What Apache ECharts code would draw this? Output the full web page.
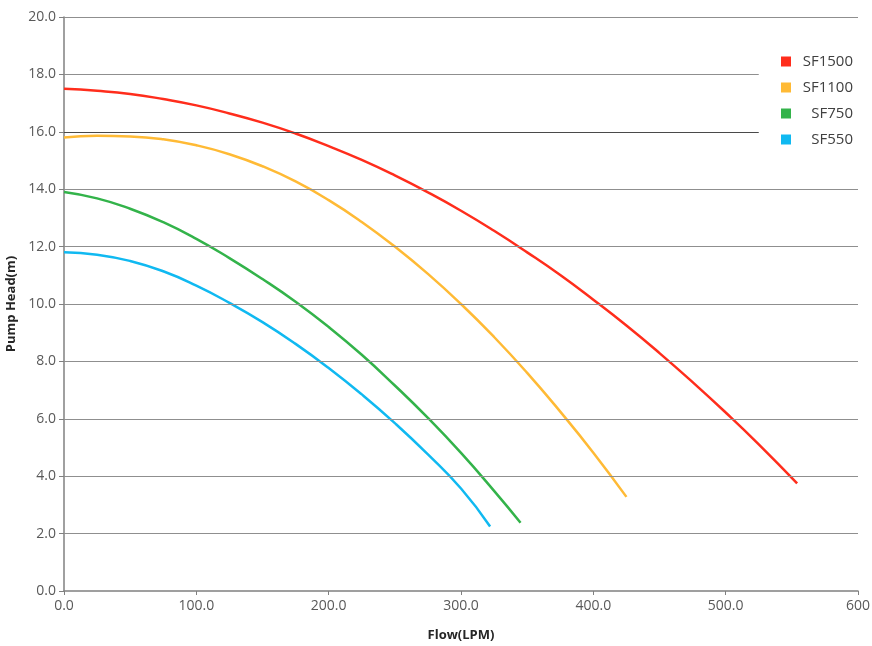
<!DOCTYPE html>
<html>
<head>
<meta charset="utf-8">
<script src="https://cdn.jsdelivr.net/npm/echarts@6/dist/echarts.min.js"></script>
<style>html,body{margin:0;padding:0;background:#fff;}#c{width:872px;height:646px;}</style>
</head>
<body>
<div id="c"></div>
<script>
var seriesNames = ['SF1500', 'SF1100', 'SF750', 'SF550'];
var sf1500 = [[0,17.5],[25,17.43],[50,17.32],[75,17.14],[100,16.92],[125,16.64],[150,16.32],[175,15.94],[200,15.5],[225,15.02],[250,14.48],[275,13.89],[300,13.25],[325,12.55],[350,11.8],[375,11.01],[400,10.15],[425,9.25],[450,8.29],[475,7.28],[500,6.22],[525,5.11],[554,3.75]];
var sf1100 = [[0,15.8],[25,15.86],[50,15.84],[75,15.74],[100,15.53],[125,15.22],[150,14.8],[175,14.27],[200,13.62],[225,12.86],[250,12.0],[275,11.05],[300,10.0],[325,8.85],[350,7.6],[375,6.25],[400,4.82],[425,3.28]];
var sf750 = [[0,13.9],[25,13.68],[50,13.32],[75,12.85],[100,12.27],[125,11.6],[150,10.87],[175,10.08],[200,9.2],[225,8.23],[250,7.16],[275,6.03],[300,4.81],[325,3.49],[345,2.38]];
var sf550 = [[0,11.8],[25,11.72],[50,11.5],[75,11.14],[100,10.64],[125,10.04],[150,9.37],[175,8.61],[200,7.77],[225,6.85],[250,5.85],[275,4.76],[300,3.57],[322,2.25]];
var yTicks = [2, 4, 6, 8, 10, 12, 14, 16, 18, 20];
var shortGridTicks = [16, 18];
var shortGridEnd = 525;
var xMax = 600;

var colors = ['#FF2D1C', '#FFBA35', '#33B34A', '#10B9F1'];
var font = '"Open Sans", "DejaVu Sans", sans-serif';

var gridData = yTicks.map(function (v) {
  var end = shortGridTicks.indexOf(v) >= 0 ? shortGridEnd : xMax;
  return [{coord: [0, v], lineStyle: {type: 'solid', color: v === 16 ? '#4a4a4a' : '#8f8f8f', width: 1.2}},
          {coord: [end, v]}];
});

var chart = echarts.init(document.getElementById('c'), null, {renderer: 'canvas'});
var dataSets = [sf1500, sf1100, sf750, sf550];
var series = dataSets.map(function (d, i) {
  return {
    name: seriesNames[i], type: 'line', data: d, smooth: 0.5,
    showSymbol: false, symbol: 'none', z: 3,
    lineStyle: {width: 2.5, color: colors[i]}, itemStyle: {color: colors[i]}
  };
});
series.push({
  type: 'line', data: [], silent: true, z: 1,
  markLine: {silent: true, symbol: ['none', 'none'], label: {show: false},
    lineStyle: {type: 'solid'}, animation: false, data: gridData}
});

chart.setOption({
  animation: false,
  color: colors,
  grid: {left: 64, right: 14, top: 17, bottom: 55, containLabel: false, outerBoundsMode: 'none'},
  legend: {
    orient: 'vertical', right: 14, top: 49,
    itemWidth: 10, itemHeight: 10, itemGap: 11,
    icon: 'rect', data: seriesNames,
    formatter: function (n) { return '{a|' + n + '}'; },
    textStyle: {rich: {a: {width: 57, align: 'right', fontSize: 15, lineHeight: 19, fontFamily: font, color: '#404040'}}}
  },
  xAxis: {
    type: 'value', min: 0, max: xMax, interval: 100,
    name: 'Flow(LPM)', nameLocation: 'middle', nameGap: 38,
    nameTextStyle: {fontWeight: 'bold', fontSize: 13, fontFamily: font, color: '#262626'},
    axisLine: {show: true, lineStyle: {color: '#808080', width: 1.5}},
    axisTick: {show: true, length: 4, lineStyle: {color: '#808080'}},
    splitLine: {show: false},
    axisLabel: {fontSize: 14, fontFamily: font, color: '#595959', margin: 8,
      formatter: function (v) { return v === xMax ? String(v) : v.toFixed(1); }}
  },
  yAxis: {
    type: 'value', min: 0, max: 20, interval: 2,
    name: 'Pump Head(m)', nameLocation: 'middle', nameGap: 46,
    nameTextStyle: {fontWeight: 'bold', fontSize: 13, fontFamily: font, color: '#262626'},
    axisLine: {show: true, lineStyle: {color: '#808080', width: 1.5}},
    axisTick: {show: true, length: 5, lineStyle: {color: '#808080'}},
    splitLine: {show: false},
    axisLabel: {fontSize: 14, fontFamily: font, color: '#595959', margin: 8,
      formatter: function (v) { return v.toFixed(1); }}
  },
  series: series
});
</script>
</body>
</html>
